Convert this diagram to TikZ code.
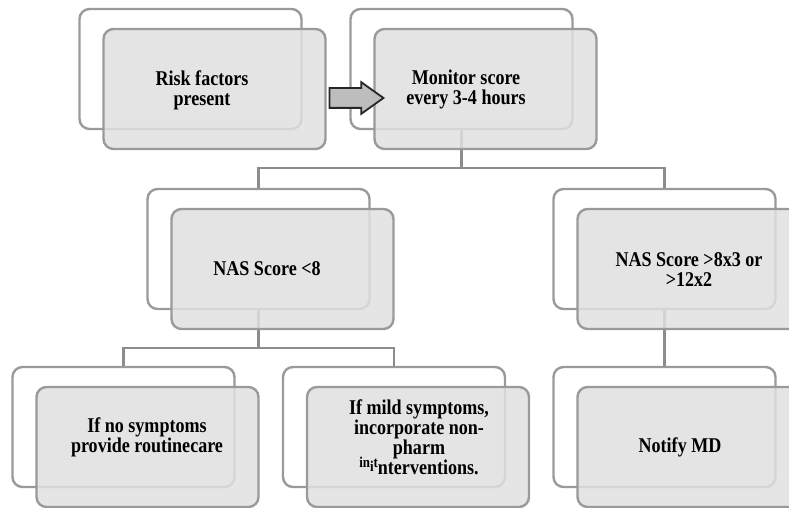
\documentclass[tikz,border=0pt]{standalone}
\usepackage{fontspec}
\setmainfont{Liberation Serif}[FakeStretch=0.86]
\usepackage{tikz}
\usetikzlibrary{shapes.arrows}
\definecolor{boxline}{HTML}{9A9A9A}
\definecolor{boxfill}{HTML}{E0E0E0}
\definecolor{linkline}{HTML}{8C8C8C}
\definecolor{arrowfill}{HTML}{BDBDBD}
\newcommand{\smalltxt}{\fontsize{15}{15}\selectfont}
\tikzset
{
    backbox/.style = {rectangle, rounded corners=10pt, draw=boxline, line width=2.4pt, fill=white, minimum width=222pt, minimum height=120pt, inner sep=0pt},
    frontbox/.style = {backbox, fill=boxfill, fill opacity=0.85, xshift=24pt, yshift=-20pt},
    link/.style = {draw=linkline, line width=2.6pt},
    boxtext/.style = {align=center, font=\fontsize{21}{20}\selectfont\bfseries, inner sep=0pt},
    blockarrow/.style = {single arrow, draw=black!85, line width=1.8pt, fill=arrowfill, minimum height=54pt, inner xsep=0pt, inner ysep=9pt, single arrow head extend=6pt, single arrow tip angle=71}
}

\begin{document}
\begin{tikzpicture}
	[x=1pt, y=-1pt]
	\useasboundingbox (0,0) rectangle (789,508);
	\node[backbox] (riskB) at (190.5,69) {};
	\node[backbox] (monB) at (461.5,69) {};
	\node[backbox] (lowB) at (258.5,249) {};
	\node[backbox] (highB) at (664.5,249) {};
	\node[backbox] (noB) at (123.5,427) {};
	\node[backbox] (mildB) at (394,427) {};
	\node[backbox] (mdB) at (664.5,427) {};
	\draw[link] (lowB.north) -- ++(0,-20) -| (monB.south);
	\draw[link] (highB.north) -- ++(0,-20) -| (monB.south);
	\draw[link] (noB.north) -- ++(0,-18) -| (lowB.south);
	\draw[link] (mildB.north) -- ++(0,-18) -| (lowB.south);
	\draw[link] (highB.south) -- (mdB.north);
	\node[frontbox] (riskF) at (riskB) {};
	\node[frontbox] (monF) at (monB) {};
	\node[frontbox] (lowF) at (lowB) {};
	\node[frontbox] (highF) at (highB) {};
	\node[frontbox] (noF) at (noB) {};
	\node[frontbox] (mildF) at (mildB) {};
	\node[frontbox] (mdF) at (mdB) {};
	\node[blockarrow, anchor=tip] (go) at (385,98) {};
	\node[boxtext] (risk) at (202,90) {Risk factors\\present};
	\node[boxtext] (monitor) at (466,89) {Monitor score\\every 3-4 hours};
	\node[boxtext] (nasLow) at (267,269) {NAS Score <8};
	\node[boxtext] (nasHigh) at (689,270) {NAS Score >8x3 or\\>12x2};
	\node[boxtext] (noSym) at (147,437) {If no symptoms\\provide routinecare};
	\node[boxtext, font=\fontsize{21}{16}\selectfont\bfseries] (mildSym) at (419,437)
		{If mild symptoms,\\incorporate non-\\pharm\\\raisebox{7pt}[0pt][0pt]{\smalltxt in}\raisebox{3pt}[0pt][0pt]{\smalltxt i}\raisebox{7pt}[0pt][0pt]{\smalltxt t}nterventions.};
	\node[boxtext] (notify) at (680,447) {Notify MD};
\end{tikzpicture}
\end{document}
